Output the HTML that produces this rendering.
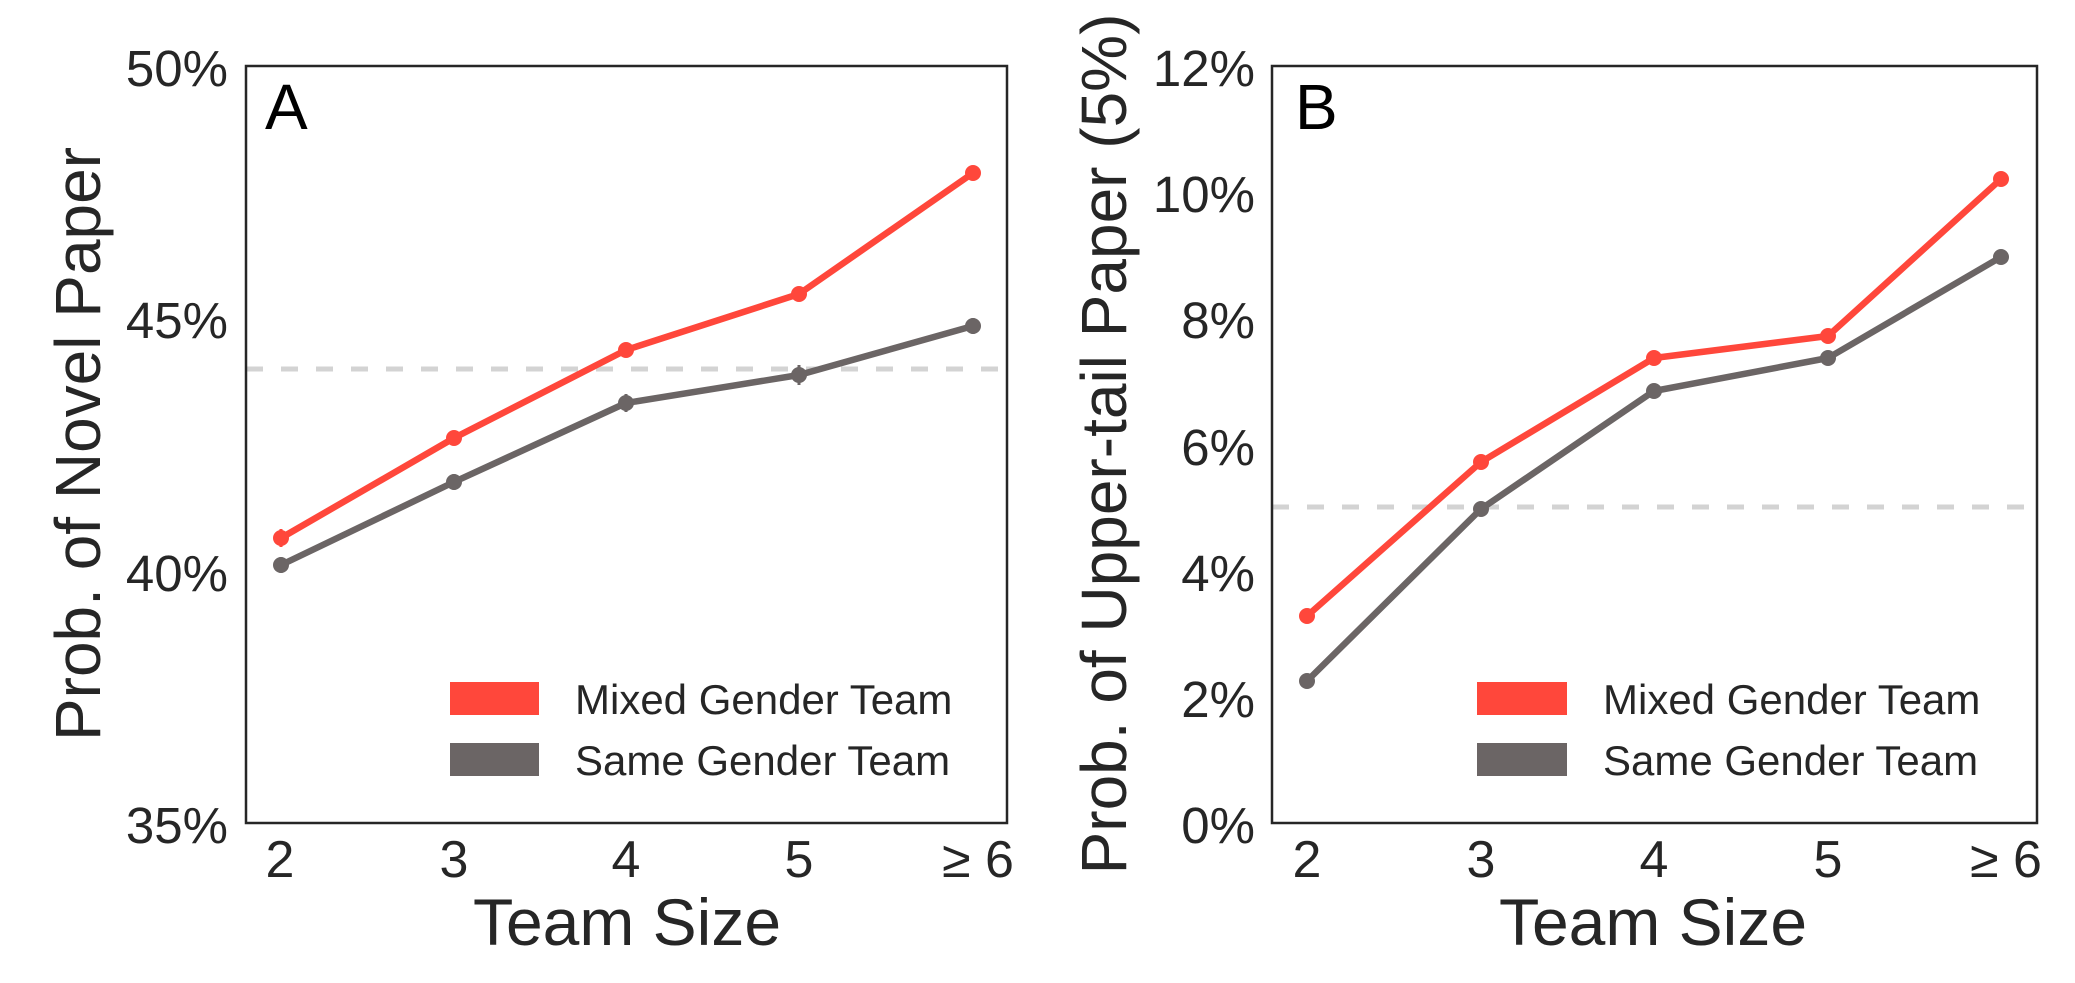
<!DOCTYPE html>
<html><head><meta charset="utf-8"><style>
html,body{margin:0;padding:0;background:#fff;}
svg{display:block;}
text{font-family:"Liberation Sans",Arial,sans-serif;fill:#262626;}
</style></head><body>
<svg width="2075" height="983" viewBox="0 0 2075 983" xmlns="http://www.w3.org/2000/svg">
<rect width="2075" height="983" fill="#fff"/>
<!-- Panel A -->
<line x1="246" y1="369" x2="1007" y2="369" stroke="#d3d3d3" stroke-width="5" stroke-dasharray="17,18"/>
<g stroke="#6b6565" stroke-width="3">
<line x1="281" y1="557" x2="281" y2="573"/><line x1="454" y1="474" x2="454" y2="490"/><line x1="626" y1="394" x2="626" y2="412"/><line x1="799" y1="365" x2="799" y2="385"/><line x1="973" y1="318" x2="973" y2="334"/>
</g>
<polyline points="281,565 454,482 626,403 799,375 973,326" fill="none" stroke="#6b6565" stroke-width="6.5" stroke-linejoin="round"/>
<g fill="#6b6565"><circle cx="281" cy="565" r="8"/><circle cx="454" cy="482" r="8"/><circle cx="626" cy="403" r="8"/><circle cx="799" cy="375" r="8"/><circle cx="973" cy="326" r="8"/></g>
<g stroke="#ff473b" stroke-width="3">
<line x1="281" y1="529" x2="281" y2="547"/><line x1="454" y1="431" x2="454" y2="445"/><line x1="626" y1="344" x2="626" y2="356"/><line x1="799" y1="288" x2="799" y2="300"/>
</g>
<polyline points="281,538 454,438 626,350 799,294 973,173" fill="none" stroke="#ff473b" stroke-width="6.5" stroke-linejoin="round"/>
<g fill="#ff473b"><circle cx="281" cy="538" r="8"/><circle cx="454" cy="438" r="8"/><circle cx="626" cy="350" r="8"/><circle cx="799" cy="294" r="8"/><circle cx="973" cy="173" r="8"/></g>
<rect x="246" y="66" width="761" height="757" fill="none" stroke="#262626" stroke-width="2.5"/>
<text x="265" y="129" font-size="64" style="fill:#000">A</text>
<rect x="450" y="682" width="89" height="33" fill="#ff473b"/>
<rect x="450" y="743" width="89" height="33" fill="#6b6565"/>
<text x="575" y="714" font-size="42">Mixed Gender Team</text>
<text x="575" y="775" font-size="42">Same Gender Team</text>
<g font-size="51" text-anchor="end">
<text x="228" y="86">50%</text><text x="228" y="338">45%</text><text x="228" y="591">40%</text><text x="228" y="843">35%</text>
</g>
<g font-size="52" text-anchor="middle">
<text x="280" y="877">2</text><text x="454" y="877">3</text><text x="626" y="877">4</text><text x="799" y="877">5</text><text x="978" y="877">≥ 6</text>
</g>
<text x="627" y="945" font-size="66" text-anchor="middle">Team Size</text>
<text transform="translate(100,444) rotate(-90)" font-size="64" text-anchor="middle">Prob. of Novel Paper</text>
<!-- Panel B -->
<line x1="1272" y1="507" x2="2037" y2="507" stroke="#d3d3d3" stroke-width="5" stroke-dasharray="17,18"/>
<g stroke="#6b6565" stroke-width="3">
<line x1="1307" y1="675" x2="1307" y2="687"/><line x1="1654" y1="385" x2="1654" y2="397"/><line x1="1828" y1="351" x2="1828" y2="365"/><line x1="2001" y1="250" x2="2001" y2="264"/>
</g>
<polyline points="1307,681 1481,509 1654,391 1828,358 2001,257" fill="none" stroke="#6b6565" stroke-width="6.5" stroke-linejoin="round"/>
<g fill="#6b6565"><circle cx="1307" cy="681" r="8"/><circle cx="1481" cy="509" r="8"/><circle cx="1654" cy="391" r="8"/><circle cx="1828" cy="358" r="8"/><circle cx="2001" cy="257" r="8"/></g>
<g stroke="#ff473b" stroke-width="3"><line x1="1307" y1="609" x2="1307" y2="623"/></g>
<polyline points="1307,616 1481,462 1654,358 1828,336 2001,179" fill="none" stroke="#ff473b" stroke-width="6.5" stroke-linejoin="round"/>
<g fill="#ff473b"><circle cx="1307" cy="616" r="8"/><circle cx="1481" cy="462" r="8"/><circle cx="1654" cy="358" r="8"/><circle cx="1828" cy="336" r="8"/><circle cx="2001" cy="179" r="8"/></g>
<rect x="1272" y="66" width="765" height="757" fill="none" stroke="#262626" stroke-width="2.5"/>
<text x="1295" y="129" font-size="64" style="fill:#000">B</text>
<rect x="1477" y="682" width="90" height="33" fill="#ff473b"/>
<rect x="1477" y="743" width="90" height="33" fill="#6b6565"/>
<text x="1603" y="714" font-size="42">Mixed Gender Team</text>
<text x="1603" y="775" font-size="42">Same Gender Team</text>
<g font-size="51" text-anchor="end">
<text x="1255" y="86">12%</text><text x="1255" y="212">10%</text><text x="1255" y="338">8%</text><text x="1255" y="465">6%</text><text x="1255" y="591">4%</text><text x="1255" y="717">2%</text><text x="1255" y="843">0%</text>
</g>
<g font-size="52" text-anchor="middle">
<text x="1307" y="877">2</text><text x="1481" y="877">3</text><text x="1654" y="877">4</text><text x="1828" y="877">5</text><text x="2006" y="877">≥ 6</text>
</g>
<text x="1653" y="945" font-size="66" text-anchor="middle">Team Size</text>
<text transform="translate(1126,444) rotate(-90)" font-size="64" text-anchor="middle">Prob. of Upper-tail Paper (5%)</text>
</svg>
</body></html>
